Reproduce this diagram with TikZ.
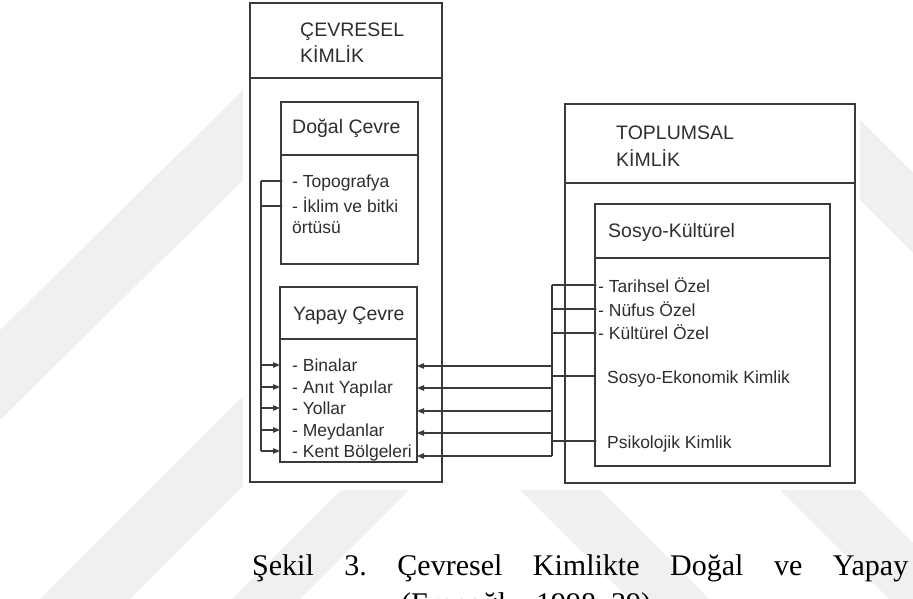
\documentclass[tikz,border=0pt]{standalone}
\usepackage{fontspec}
\setmainfont{Liberation Sans}
\newfontfamily\capfont{Liberation Serif}
\usetikzlibrary{arrows.meta}
\definecolor{linec}{HTML}{3A3A3A}
\definecolor{textc}{HTML}{2E2E2E}
\definecolor{wmc}{HTML}{F0F0F0}
\begin{document}
\begin{tikzpicture}[x=1pt,y=-1pt]
\tikzset{
  ln/.style={draw=linec, line width=1.1pt},
  boxn/.style={draw=linec, line width=1.1pt, anchor=north west, inner sep=0pt, outer sep=0pt},
  ttl/.style={anchor=base west, inner sep=0pt, font=\fontsize{19.5}{24}\selectfont, text=textc},
  itm/.style={anchor=base west, inner sep=0pt, font=\fontsize{17.5}{21}\selectfont, text=textc},
  arr/.style={ln, -{Triangle[length=7pt,width=5.5pt]}},
  captxt/.style={anchor=base west, inner sep=0pt, font=\capfont\fontsize{30}{35}\selectfont, text=black},
  wm/.style={fill=wmc, draw=none},
}
\clip (0,0) rectangle (913,599);
\useasboundingbox (0,0) rectangle (913,599);
% watermark (behind the scanned figure)
\fill[wm] (0,330) -- (0,420) -- (243,180) -- (243,90) -- cycle;
\fill[wm] (40,599) -- (130,599) -- (243,486) -- (243,396) -- cycle;
\fill[wm] (232,599) -- (300,599) -- (409,490) -- (341,490) -- cycle;
\fill[wm] (520,490) -- (600,490) -- (709,599) -- (629,599) -- cycle;
\fill[wm] (780,490) -- (860,490) -- (913,543) -- (913,599) -- (889,599) -- cycle;
\fill[wm] (860,120) -- (913,173) -- (913,253) -- (860,200) -- cycle;
% scanned figure area
\fill[white] (243,0) rectangle (860,490);

% boxes
\node[boxn, minimum width=192pt, minimum height=479pt] (cev) at (250,3) {};
\node[boxn, minimum width=137pt, minimum height=162pt] (dogal) at (281,102) {};
\node[boxn, minimum width=137pt, minimum height=175pt] (yapay) at (280,287) {};
\node[boxn, minimum width=290pt, minimum height=379pt] (top) at (565,104) {};
\node[boxn, minimum width=235pt, minimum height=262pt] (sosyo) at (595,204) {};

% header separators
\coordinate (hcev) at (0,78);
\coordinate (hdog) at (0,155);
\coordinate (hyap) at (0,339);
\coordinate (htop) at (0,183);
\coordinate (hsos) at (0,258);
\draw[ln] (cev.west |- hcev) -- (cev.east |- hcev);
\draw[ln] (dogal.west |- hdog) -- (dogal.east |- hdog);
\draw[ln] (yapay.west |- hyap) -- (yapay.east |- hyap);
\draw[ln] (top.west |- htop) -- (top.east |- htop);
\draw[ln] (sosyo.west |- hsos) -- (sosyo.east |- hsos);

% titles
\node[ttl] (cevt1) at (300,37) {ÇEVRESEL};
\node[ttl] (cevt2) at (300,63) {KİMLİK};
\node[ttl] (topt1) at (616,140) {TOPLUMSAL};
\node[ttl] (topt2) at (616,167) {KİMLİK};
\node[ttl] (dogt) at (292,134) {Doğal Çevre};
\node[ttl] (yapt) at (293,320) {Yapay Çevre};
\node[ttl] (sost) at (608,237) {Sosyo-Kültürel};

% items
\node[itm] (d1t) at (292,187) {- Topografya};
\node[itm] (d2t) at (292,212) {- İklim ve bitki};
\node[itm] (d3t) at (292,233) {örtüsü};
\node[itm] (y1t) at (292,371) {- Binalar};
\node[itm] (y2t) at (292,393) {- Anıt Yapılar};
\node[itm] (y3t) at (292,414) {- Yollar};
\node[itm] (y4t) at (292,436) {- Meydanlar};
\node[itm] (y5t) at (292,457) {- Kent Bölgeleri};
\node[itm] (s1t) at (598,292) {- Tarihsel Özel};
\node[itm] (s2t) at (598,316) {- Nüfus Özel};
\node[itm] (s3t) at (598,339) {- Kültürel Özel};
\node[itm] (s4t) at (607,383) {Sosyo-Ekonomik Kimlik};
\node[itm] (s5t) at (607,448) {Psikolojik Kimlik};

% connector rows
\coordinate (busL) at (261,0);
\coordinate (busR) at (552,0);
\coordinate (d1) at (0,181);
\coordinate (d2) at (0,206);
\coordinate (l1) at (0,365);
\coordinate (l2) at (0,387);
\coordinate (l3) at (0,408);
\coordinate (l4) at (0,430);
\coordinate (l5) at (0,451);
\coordinate (r1) at (0,366);
\coordinate (r2) at (0,388);
\coordinate (r3) at (0,411);
\coordinate (r4) at (0,433);
\coordinate (r5) at (0,456);
\coordinate (s1) at (0,285);
\coordinate (s2) at (0,309);
\coordinate (s3) at (0,333);
\coordinate (s4) at (0,376);
\coordinate (s5) at (0,441);

% left bus
\draw[ln] (busL |- d1) -- (busL |- l5);
\foreach \r in {d1,d2}{
  \draw[ln] (busL |- \r) -- (dogal.west |- \r);
  \fill[linec] (dogal.west |- \r) circle (1.5);
}
\foreach \r in {l1,l2,l3,l4,l5}{
  \draw[arr] (busL |- \r) -- (yapay.west |- \r);
}
% right bus
\draw[ln] (busR |- s1) -- (busR |- r5);
\foreach \r in {r1,r2,r3,r4,r5}{
  \draw[arr] (busR |- \r) -- (yapay.east |- \r);
}
\foreach \r in {s1,s2,s3,s4,s5}{
  \draw[ln] (busR |- \r) -- (sosyo.west |- \r);
  \fill[linec] (sosyo.west |- \r) circle (1.5);
}

% caption
\node[captxt] (cap1) at (252,575) {\hbox to 656pt{Şekil\hfill 3.\hfill Çevresel\hfill Kimlikte\hfill Doğal\hfill ve\hfill Yapay}};
\node[captxt] (cap2) at (401,613) {(Erenoğlu, 1998, 39)};
\end{tikzpicture}
\end{document}
